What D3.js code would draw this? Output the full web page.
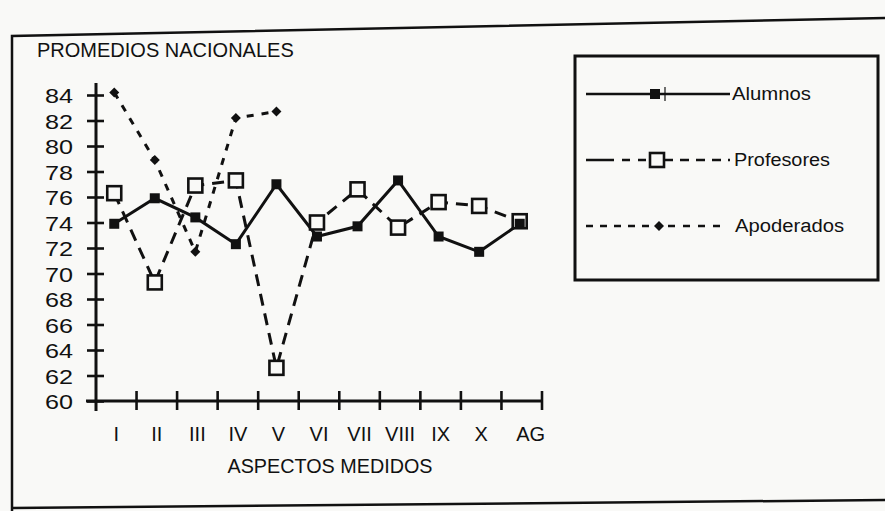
<!DOCTYPE html>
<html><head><meta charset="utf-8">
<script src="https://cdn.jsdelivr.net/npm/d3@7"></script>
<style>body{margin:0;background:#f9f9f7}svg{display:block}text{font-family:"Liberation Sans",Arial,sans-serif;fill:#111}</style>
</head><body><svg id="c" width="885" height="511"></svg>
<script>
const categories=["I","II","III","IV","V","VI","VII","VIII","IX","X","AG"];
const alumnos=[73.9,75.9,74.4,72.3,77.0,72.9,73.7,77.3,72.9,71.7,73.9];
const profesores=[76.3,69.3,76.9,77.3,62.6,74.0,76.6,73.6,75.6,75.3,74.1];
const apoderadosCats=["I","II","III","IV","V"];
const apoderados=[84.2,78.9,71.7,82.2,82.7];
const yTicks=[60,62,64,66,68,70,72,74,76,78,80,82,84];
const legendNames=["Alumnos","Profesores","Apoderados"];

const svg=d3.select("#c");
const ink="#111";
svg.append("rect").attr("width",885).attr("height",511).attr("fill","#f9f9f7");
// outer frame
svg.append("path").attr("d","M12,511 L12,36 L885,18").attr("fill","none").attr("stroke",ink).attr("stroke-width",2.5);
svg.append("path").attr("d","M12,508 L885,500").attr("fill","none").attr("stroke",ink).attr("stroke-width",2.5);

const x=d3.scaleBand().domain(categories).range([96,542]).paddingInner(0).paddingOuter(0);
const y=d3.scaleLinear().domain([60,84]).range([401,95]);
const cx=c=>x(c)+x.bandwidth()*0.45;

svg.append("text").attr("x",37).attr("y",57).attr("font-size",20).text("PROMEDIOS NACIONALES");

// y axis
const gy=svg.append("g").attr("transform","translate(96,0)")
 .call(d3.axisLeft(y).tickValues(yTicks).tickSize(0).tickPadding(0).tickFormat(d3.format("d")));
gy.select(".domain").remove();
gy.selectAll(".tick line").attr("x1",-9).attr("x2",8).attr("stroke",ink).attr("stroke-width",2.6);
gy.selectAll(".tick text").attr("x",-23).attr("dy","0.36em").attr("font-size",21).attr("font-family","Liberation Sans, Arial, sans-serif").attr("fill",ink).attr("textLength",28).attr("lengthAdjust","spacingAndGlyphs");
svg.append("line").attr("x1",96).attr("x2",96).attr("y1",83).attr("y2",411).attr("stroke",ink).attr("stroke-width",3);

// x axis
const gx=svg.append("g").attr("transform","translate(0,401)");
svg.append("line").attr("x1",86).attr("x2",542).attr("y1",401).attr("y2",401).attr("stroke",ink).attr("stroke-width",3);
const bounds=categories.map(c=>x(c)+x.bandwidth());
gx.selectAll("line.t").data(bounds).join("line").attr("x1",d=>d).attr("x2",d=>d).attr("y1",-10).attr("y2",9).attr("stroke",ink).attr("stroke-width",2.6);
gx.selectAll("text").data(categories).join("text").attr("x",d=>x(d)+x.bandwidth()/2+(d==="AG"?9:0)).attr("y",40).attr("text-anchor","middle").attr("font-size",20).text(d=>d);
svg.append("text").attr("x",330).attr("y",473).attr("text-anchor","middle").attr("font-size",20).attr("textLength",205).attr("lengthAdjust","spacingAndGlyphs").text("ASPECTOS MEDIDOS");

// lines
const line=d3.line().x(d=>d[0]).y(d=>d[1]);
const aluPts=categories.map((c,i)=>[cx(c),y(alumnos[i])]);
const proPts=categories.map((c,i)=>[cx(c),y(profesores[i])]);
const apoPts=apoderadosCats.map((c,i)=>[cx(c),y(apoderados[i])]);
svg.append("path").attr("d",line(apoPts)).attr("fill","none").attr("stroke",ink).attr("stroke-width",3).attr("stroke-dasharray","7,8");
svg.append("path").attr("d",line(proPts)).attr("fill","none").attr("stroke",ink).attr("stroke-width",3).attr("stroke-dasharray","12,8");
svg.append("path").attr("d",line(aluPts)).attr("fill","none").attr("stroke",ink).attr("stroke-width",3);

// markers
svg.selectAll("path.dia").data(apoPts).join("path").attr("d",d=>`M${d[0]},${d[1]-5} L${d[0]+5},${d[1]} L${d[0]},${d[1]+5} L${d[0]-5},${d[1]} Z`).attr("fill",ink);
svg.selectAll("rect.pro").data(proPts).join("rect").attr("x",d=>d[0]-7).attr("y",d=>d[1]-7).attr("width",14).attr("height",14).attr("fill","#f9f9f7").attr("stroke",ink).attr("stroke-width",2.6);
svg.selectAll("rect.alu").data(aluPts).join("rect").attr("x",d=>d[0]-5).attr("y",d=>d[1]-5).attr("width",10).attr("height",10).attr("fill",ink);

// legend
svg.append("rect").attr("x",575).attr("y",56).attr("width",303).attr("height",224).attr("fill","none").attr("stroke",ink).attr("stroke-width",3);
const lg=svg.append("g");
// Alumnos
lg.append("line").attr("x1",586).attr("x2",730).attr("y1",94).attr("y2",94).attr("stroke",ink).attr("stroke-width",2.5);
lg.append("rect").attr("x",650).attr("y",89).attr("width",10).attr("height",10).attr("fill",ink);
lg.append("line").attr("x1",665).attr("x2",665).attr("y1",87).attr("y2",101).attr("stroke",ink).attr("stroke-width",1.2);
// Profesores
lg.append("line").attr("x1",586).attr("x2",650).attr("y1",160).attr("y2",160).attr("stroke",ink).attr("stroke-width",2.5).attr("stroke-dasharray","28,8,8,8,8,8");
lg.append("line").attr("x1",664).attr("x2",730).attr("y1",160).attr("y2",160).attr("stroke",ink).attr("stroke-width",2.5).attr("stroke-dasharray","9,7");
lg.append("rect").attr("x",650).attr("y",153).attr("width",14).attr("height",14).attr("fill","#f9f9f7").attr("stroke",ink).attr("stroke-width",2.6);
// Apoderados
lg.append("line").attr("x1",586).attr("x2",652).attr("y1",226).attr("y2",226).attr("stroke",ink).attr("stroke-width",2.5).attr("stroke-dasharray","7,7");
lg.append("line").attr("x1",668).attr("x2",726).attr("y1",226).attr("y2",226).attr("stroke",ink).attr("stroke-width",2.5).attr("stroke-dasharray","7,8");
lg.append("path").attr("d","M659,221 L664,226 L659,231 L654,226 Z").attr("fill",ink);
const lgPos=[[732,100,79],[734,166,96],[735,232,109]];
lg.selectAll("text").data(legendNames).join("text").attr("x",(d,i)=>lgPos[i][0]).attr("y",(d,i)=>lgPos[i][1]).attr("font-size",18).attr("textLength",(d,i)=>lgPos[i][2]).attr("lengthAdjust","spacingAndGlyphs").text(d=>d);
</script></body></html>
